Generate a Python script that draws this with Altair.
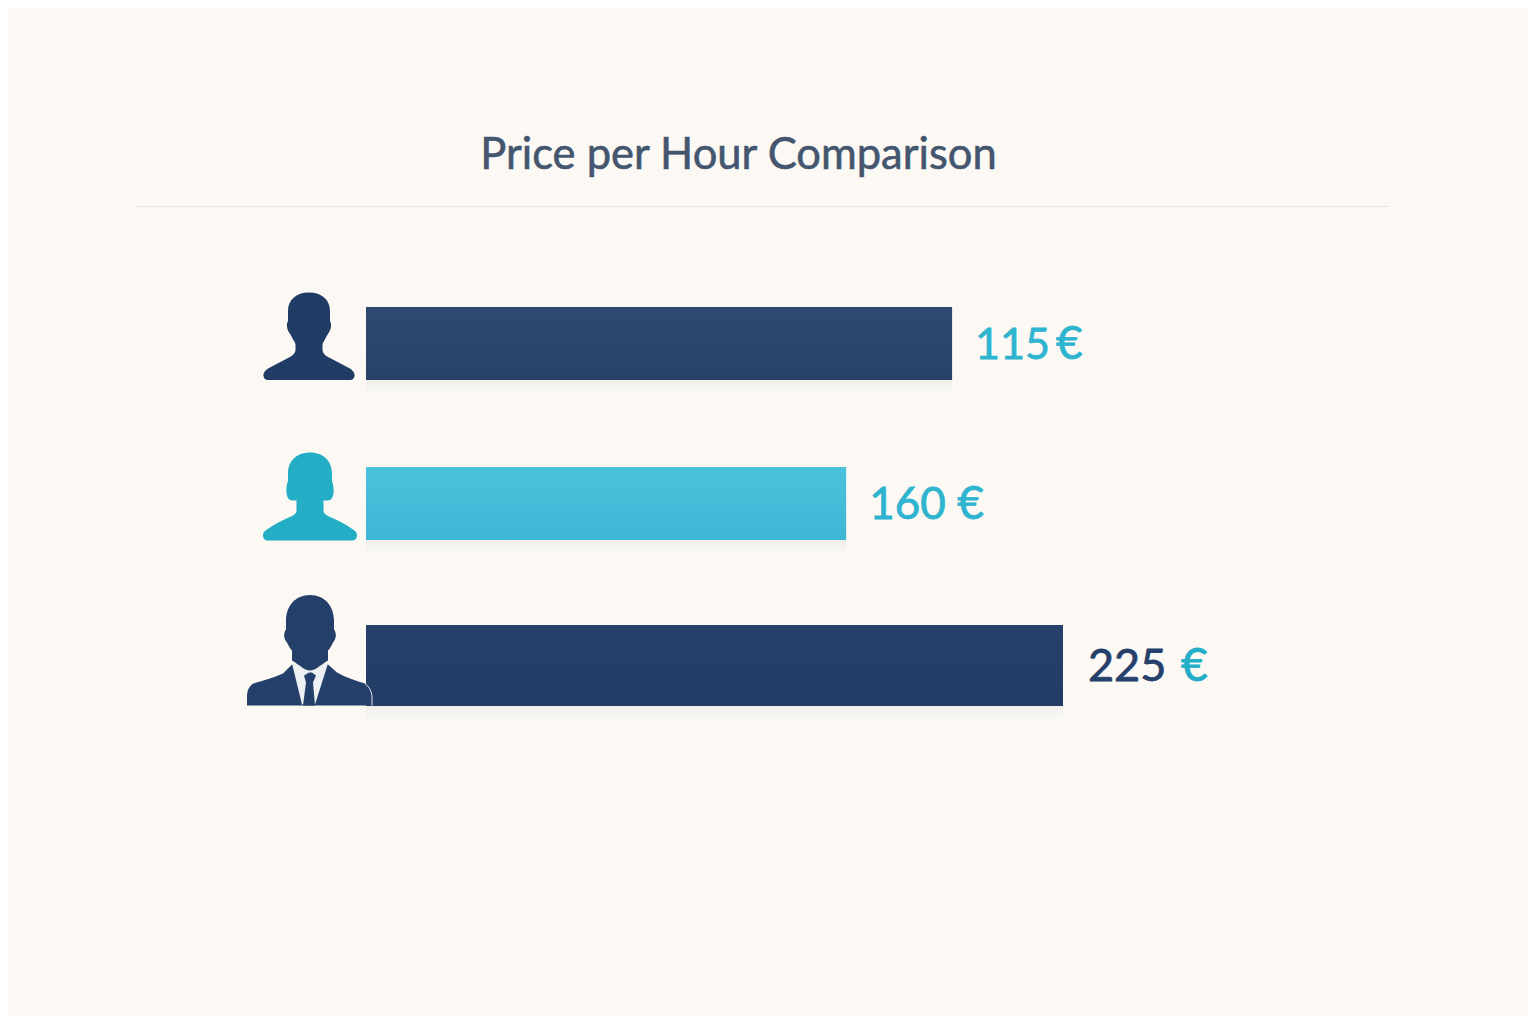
import altair as alt
import pandas as pd

TITLE = "Price per Hour Comparison"
rows = [0, 1, 2]
# Drawn bar lengths (they do not follow the printed labels)
bar_lengths = [189.2, 155, 225]
price_labels = ["115", "160", "225"]
euro_labels = ["€", "€", "€"]
bar_heights = [73, 73, 81]

BG = "#fcf9f5"
NAVY = "#203c65"
TEAL = "#24aec6"
FONT = "Lato"

number_colors = ["#2fb4d0", "#2fb4d0", "#25406a"]
euro_colors = ["#2fb4d0", "#2fb4d0", "#22aec8"]
bar_top_colors = ["#2e4a71", "#4cc1dc", "#25416b"]
bar_bottom_colors = ["#294268", "#3eb7d5", "#233c66"]
number_sizes = [43, 44, 45]
number_dx = [23, 23, 25]
euro_dx = [104, 111, 118]
text_dy = [15, 14, 15]
row_shift = [0, -1, 0]

MAN = ("M0 -43.5C13 -43.5 21 -36 21 -25L21 -15C23 -12 22 -6 19.5 -3C17 1 15 5 13.5 8L13.5 14"
       "C14 18 17 20 21 22L40 32C45 35 46 38 45.5 40C45 43 43 44 41 44L-41 44C-43 44 -45 43 -45.5 40"
       "C-46 38 -45 35 -40 32L-21 22C-17 20 -14 18 -13.5 14L-13.5 8C-15 5 -17 1 -19.5 -3"
       "C-22 -6 -23 -12 -21 -15L-21 -25C-21 -36 -13 -43.5 0 -43.5Z")
WOMAN = ("M0 -44C14 -44 22 -35 22 -23L22 -16C24 -10 24 -4 23 -1C22 3 20 4 17 4L13.5 4L13.5 14"
         "C13.5 16 15 18 18 19.5C27 23 36 28 43 33C46 35 47 36 47 39C47 42 45 44 42 44L-42 44"
         "C-45 44 -47 42 -47 39C-47 36 -46 35 -43 33C-36 28 -27 23 -18 19.5C-15 18 -13.5 16 -13.5 14"
         "L-13.5 4L-17 4C-20 4 -22 3 -23 -1C-24 -4 -24 -10 -22 -16L-22 -23C-22 -35 -14 -44 0 -44Z")
SUIT = ("M-18 14L-27 23C-36 27 -46 30 -57 33C-61 36 -63 40 -63 45L-63 55L61 55L61 41"
        "C60 37 58 35 55 33C45 30 36 27 27 22L18 14Z")
SHIRT = "M-18 13L18 13L5 54L-8 54Z"
TIE = "M-6 25L-1 22L2 22L6 25L3 32L5 55L-7 55L-4 32Z"
HEAD = ("M0 -55.5C15 -55.5 24 -44 24 -30L24 -21C27 -17 26 -11 23 -8C21 -4 20 -2 18 0L18 10"
        "C10 15 5 20 0 20C-5 20 -10 15 -18 10L-18 0C-20 -2 -21 -4 -23 -8C-26 -11 -27 -17 -24 -21"
        "L-24 -30C-24 -44 -15 -55.5 0 -55.5Z")
EDGE = "M55 33C59 36 61 40 62 45L62 55"

xs = alt.Scale(domain=[0, 225], range=[358, 1055])
ys = alt.Scale(domain=[0, 2], range=[335.5, 657.5], padding=0)
X = alt.X("x:Q", scale=xs, axis=None, stack=None)
Y = alt.Y("row:Q", scale=ys, axis=None)


def frame(i, x):
    return pd.DataFrame({"row": [rows[i]], "x": [x]})


layers = []
for i in rows:
    for off, op, grow in [(3, 0.025, 2), (7, 0.018, 4), (11, 0.01, 6)]:
        layers.append(
            alt.Chart(frame(i, bar_lengths[i]))
            .mark_bar(size=bar_heights[i] + grow, orient="horizontal", color="#27406a",
                      opacity=op, yOffset=row_shift[i] + off)
            .encode(x=X, y=Y)
        )
    layers.append(
        alt.Chart(frame(i, bar_lengths[i]))
        .mark_bar(
            size=bar_heights[i], orient="horizontal", yOffset=row_shift[i],
            color=alt.Gradient(
                gradient="linear", x1=0, x2=0, y1=0, y2=1,
                stops=[alt.GradientStop(color=bar_top_colors[i], offset=0),
                       alt.GradientStop(color=bar_bottom_colors[i], offset=1)],
            ),
        )
        .encode(x=X, y=Y)
    )
    layers.append(
        alt.Chart(frame(i, bar_lengths[i]))
        .mark_text(text=price_labels[i], align="left", baseline="alphabetic", font=FONT,
                   fontSize=number_sizes[i], color=number_colors[i], stroke=number_colors[i],
                   strokeWidth=0.8, dx=number_dx[i], dy=text_dy[i])
        .encode(x=X, y=Y)
    )
    layers.append(
        alt.Chart(frame(i, bar_lengths[i]))
        .mark_text(text=euro_labels[i], align="left", baseline="alphabetic", font=FONT,
                   fontSize=46, color=euro_colors[i], stroke=euro_colors[i], strokeWidth=0.8,
                   dx=euro_dx[i], dy=text_dy[i])
        .encode(x=X, y=Y)
    )


def icon(i, path, color, dx, dy):
    return (
        alt.Chart(frame(i, 0))
        .mark_point(shape=path, size=4, filled=True, color=color, opacity=1, strokeWidth=0,
                    xOffset=dx, yOffset=dy)
        .encode(x=X, y=Y)
    )


layers += [
    icon(0, MAN, NAVY, -57, -7.5),
    icon(1, WOMAN, TEAL, -56, -8),
    icon(2, SUIT, "#243f69", -56, -15),
    icon(2, SHIRT, "#eef1f4", -56, -15),
    icon(2, TIE, "#243f69", -56, -15),
    icon(2, HEAD, "#243f69", -56, -15),
    alt.Chart(frame(2, 0))
    .mark_point(shape=EDGE, size=4, filled=False, color="#e6eaee", opacity=1, strokeWidth=1,
                xOffset=-56, yOffset=-15)
    .encode(x=X, y=Y),
]

title = alt.Chart(pd.DataFrame({"t": [TITLE]})).mark_text(
    font=FONT, fontSize=43.5, color="#44566f", stroke="#44566f", strokeWidth=0.6,
    align="center", baseline="alphabetic"
).encode(x=alt.value(730.5), y=alt.value(161), text="t:N")

rule = alt.Chart(pd.DataFrame({"t": [TITLE]})).mark_rule(color="#e8e6e2", strokeWidth=1).encode(
    x=alt.value(128), x2=alt.value(1381), y=alt.value(198.5)
)

chart = alt.layer(title, rule, *layers).properties(
    width=1520, height=1008, padding=0, autosize="none", background=BG,
).configure_view(stroke=None)

chart.save("out.html", embed_options={"renderer": "svg", "actions": False})
